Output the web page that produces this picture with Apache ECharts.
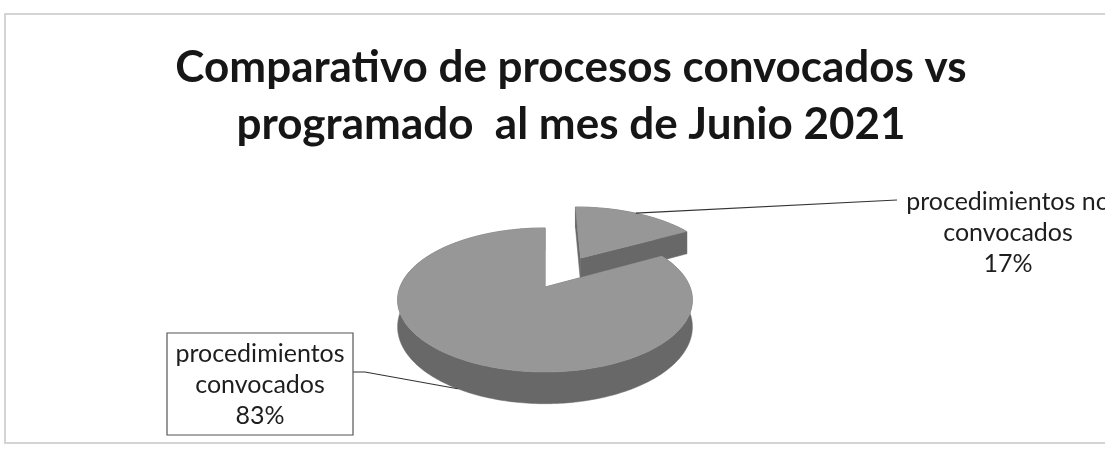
<!DOCTYPE html>
<html><head><meta charset="utf-8">
<script src="https://cdn.jsdelivr.net/npm/echarts@6/dist/echarts.min.js"></script>
<style>html,body{margin:0;padding:0;background:#fff}#c{width:1105px;height:454px}</style>
</head><body><div id="c"></div>
<script>
// ---- data ----
const categories = ['procedimientos no convocados', 'procedimientos convocados'];
const values = [17, 83];
const titleLines = ['Comparativo de procesos convocados vs', 'programado  al mes de Junio 2021'];

// ---- layout / style ----
const G = {cx: 545, cy: 287, rx: 145, ry: 69.7, k: 0.18, depth: 26};
const explode = [0.52, 0];
const topColor = '#979797', sideColor = '#686868';
const labelFont = '25px Lato';
const labelLayout = [
  {x: 1008, y: 202, lead: [[897, 200]], box: null},
  {x: 260, y: 354, lead: [[365, 372], [353, 372]], box: {x: 167, y: 333, width: 186, height: 102}}
];

const total = values.reduce((a, b) => a + b, 0);
const starts = []; let acc = 0;
values.forEach(v => { starts.push(acc / total); acc += v; });

function proj(u, d, drop) {
  const w = 1 + G.k * d;
  return [G.cx + G.rx * u / w, G.cy - G.ry * d / w + drop * G.depth / w];
}

function renderItem(params, api) {
  const i = params.dataIndex;
  const v = api.value(0);
  const a0 = starts[i] * 2 * Math.PI, a1 = a0 + v / total * 2 * Math.PI;
  const am = (a0 + a1) / 2;
  const ou = explode[i] * Math.sin(am), od = explode[i] * Math.cos(am);
  const n = Math.max(2, Math.ceil((a1 - a0) / (Math.PI / 180)));
  const arcTop = [], arcBot = [];
  for (let j = 0; j <= n; j++) {
    const a = a0 + (a1 - a0) * j / n;
    const u = ou + Math.sin(a), d = od + Math.cos(a);
    arcTop.push(proj(u, d, 0)); arcBot.push(proj(u, d, 1));
  }
  const cT = proj(ou, od, 0), cB = proj(ou, od, 1);
  const walls = [];
  walls.push({d: od + (Math.sin(a1) - Math.sin(a0)) / (a1 - a0), pts: arcTop.concat(arcBot.slice().reverse())});
  walls.push({d: od + Math.cos(a0) / 2, pts: [cT, arcTop[0], arcBot[0], cB]});
  walls.push({d: od + Math.cos(a1) / 2, pts: [cT, arcTop[n], arcBot[n], cB]});
  walls.sort((p, q) => q.d - p.d);
  const children = walls.map(w => ({
    type: 'polygon', shape: {points: w.pts},
    style: {fill: sideColor, stroke: sideColor, lineWidth: 0.5}
  }));
  children.push({
    type: 'polygon', shape: {points: [cT].concat(arcTop)},
    style: {fill: topColor, stroke: topColor, lineWidth: 0.5}
  });
  // leader line
  const mu = ou + Math.sin(am), md = od + Math.cos(am);
  const start = proj(mu, md, md < 0 ? 1 : 0);
  const L = labelLayout[i];
  children.push({
    type: 'polyline', shape: {points: [start].concat(L.lead)},
    style: {stroke: '#333', lineWidth: 1.2, fill: null}, z2: 10
  });
  if (L.box) {
    children.push({type: 'rect', shape: L.box, style: {fill: '#fff', stroke: '#555', lineWidth: 1.2}, z2: 11});
  }
  const txt = categories[i].replace(/ convocados$/, '\nconvocados') + '\n' + Math.round(v / total * 100) + '%';
  children.push({
    type: 'text', z2: 12,
    style: {text: txt, x: L.x, y: L.y - 15.5, align: 'center', verticalAlign: 'top',
            font: labelFont, lineHeight: 31, fill: '#1e1e1e'}
  });
  return {type: 'group', children: children};
}

const chart = echarts.init(document.getElementById('c'));
chart.setOption({
  backgroundColor: '#ffffff',
  animation: false,
  graphic: [
    {type: 'rect', shape: {x: 5, y: 14, width: 1110, height: 429}, style: {fill: null, stroke: '#d4d4d4', lineWidth: 2}, z: -10},
    {type: 'text', x: 571, y: 68, style: {text: titleLines[0], align: 'center', verticalAlign: 'middle', font: 'bold 44px Lato', fill: '#161616'}},
    {type: 'text', x: 571, y: 125, style: {text: titleLines[1], align: 'center', verticalAlign: 'middle', font: 'bold 44px Lato', fill: '#161616'}}
  ],
  series: [{
    type: 'custom',
    coordinateSystem: 'none',
    renderItem: renderItem,
    data: values.map((v, i) => ({name: categories[i], value: [v]}))
  }]
});
</script></body></html>
